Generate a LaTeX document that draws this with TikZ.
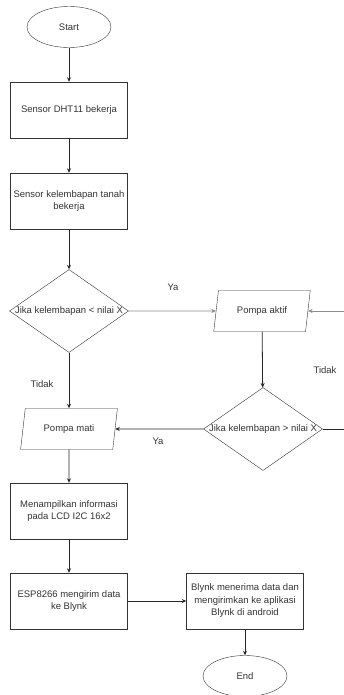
\documentclass[tikz,border=0pt]{standalone}
\usepackage{fontspec}
\setmainfont{Liberation Sans}
\usetikzlibrary{shapes.geometric,arrows.meta}

\begin{document}
\begin{tikzpicture}[x=1pt, y=-1pt,
	every node/.style={font=\fontsize{9.5}{12.5}\selectfont, text=black!80, align=center},
	terminal/.style={draw=black!80, ellipse, minimum width=84, minimum height=41, inner sep=0},
	process/.style={draw=black!80, rectangle, minimum width=117, minimum height=56, inner sep=0},
	io/.style={draw=black!80, trapezium, trapezium left angle=73, trapezium right angle=107, trapezium stretches=true, minimum width=97, minimum height=41, inner sep=0},
	decision/.style={draw=black!80, diamond, minimum width=119, minimum height=83, inner sep=0},
	line/.style={draw=black!85, line width=0.8pt, -{Stealth[length=4.5pt,width=4pt]}},
	thinline/.style={line, draw=black!45}]
\useasboundingbox (0,0) rectangle (343,695);
\node[terminal] (start) at (69,27) {Start};
\node[process] (dht) at (69,110) {Sensor DHT11 bekerja};
\node[process] (soil) at (69,201) {Sensor kelembapan tanah\\bekerja};
\node[decision, label=center:{Jika kelembapan < nilai X}] (cek1) at (69,311) {};
\node[io] (aktif) at (262,311) {Pompa aktif};
\node[decision, label=center:{Jika kelembapan > nilai X}] (cek2) at (263,429) {};
\node[io] (mati) at (69,429) {Pompa mati};
\node[process] (lcd) at (69,511) {Menampilkan informasi\\pada LCD I2C 16x2};
\node[process] (esp) at (69,601) {ESP8266 mengirim data\\ke Blynk};
\node[process] (blynk) at (245,601) {Blynk menerima data dan\\mengirimkan ke aplikasi\\Blynk di android};
\node[terminal] (end) at (245,676) {End};

\node (ya1) at (173,287) {Ya};
\node (tidak1) at (42,384) {Tidak};
\node (ya2) at (158,441) {Ya};
\node (tidak2) at (325,370) {Tidak};

\draw[line] (start) -- (dht);
\draw[line] (dht) -- (soil);
\draw[line] (soil) -- (cek1);
\draw[thinline] (cek1.east) -- (aktif.west);
\draw[line] (cek1) -- (mati);
\draw[line] (aktif) -- (cek2);
\draw[line] (cek2.west) -- (mati.east);
\draw[line, -] (cek2.east) -- ++(40,0) coordinate (loopkanan);
\draw[thinline] (loopkanan) |- (aktif.east);
\draw[line] (mati) -- (lcd);
\draw[line] (lcd) -- (esp);
\draw[line] (esp) -- (blynk);
\draw[line] (blynk) -- (end);
\end{tikzpicture}
\end{document}
